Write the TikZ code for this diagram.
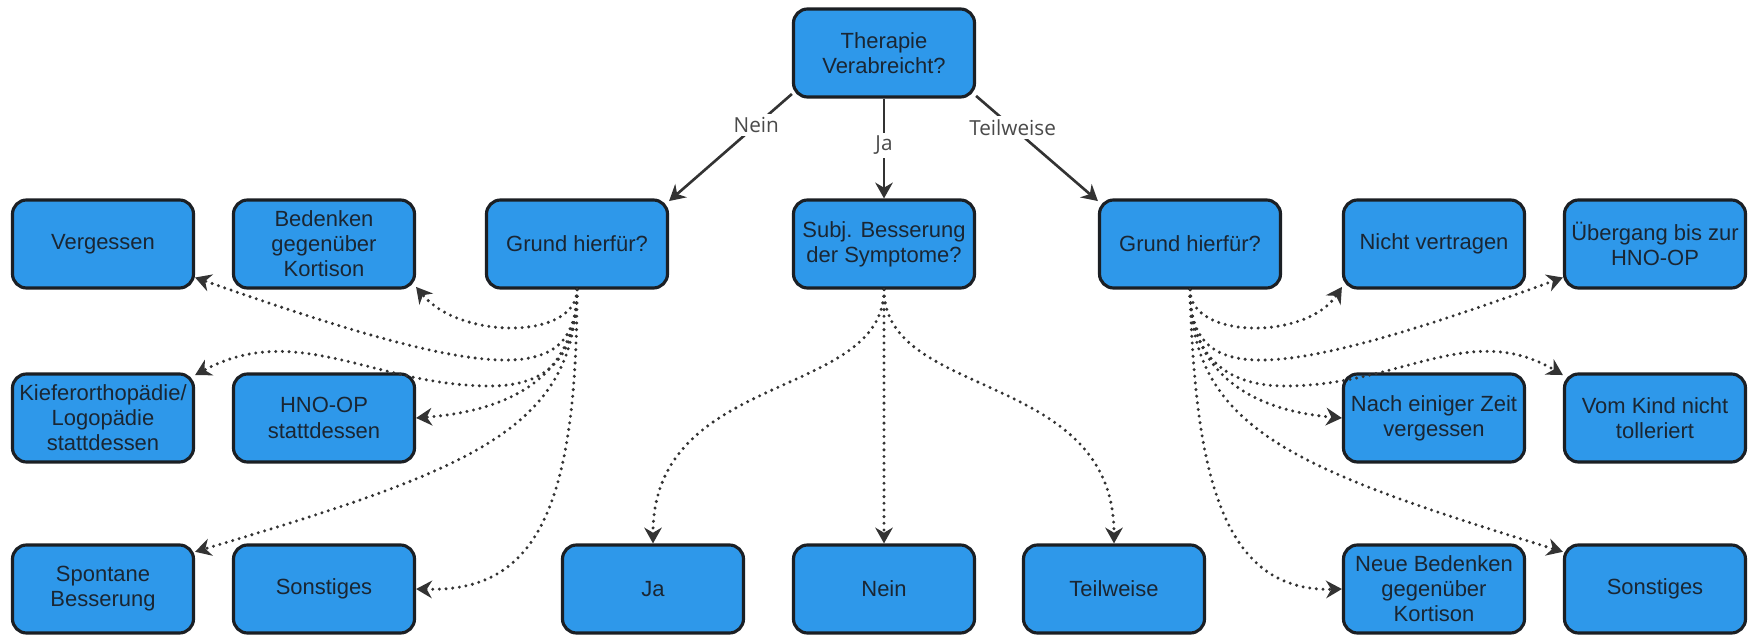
\documentclass[tikz,border=0pt]{standalone}
\usepackage{fontspec}
\setmainfont{Liberation Sans}
\newfontfamily\lblfont{Open Sans}
\usepackage{tikz}
\usetikzlibrary{arrows.meta}
\definecolor{boxblue}{HTML}{2E98EA}
\definecolor{boxline}{HTML}{1B1F24}
\definecolor{txtdark}{HTML}{1A2633}
\definecolor{arrowgrey}{HTML}{333333}
\definecolor{lblgrey}{HTML}{4A4A4A}

\begin{document}
\begin{tikzpicture}[
  x=0.2mm, y=-0.2mm,
  every node/.style={font=\fontsize{12.5}{14.3}\selectfont},
  decbox/.style={draw=boxline, line width=1.8pt, rounded corners=8pt, fill=boxblue,
    text=txtdark, align=center, minimum width=36.2mm, minimum height=17.6mm, inner sep=1pt},
  solidarr/.style={-{Stealth[length=9pt,width=10pt]}, line width=1.5pt, arrowgrey},
  dotarr/.style={-{Stealth[length=9pt,width=10pt]}, line width=1.9pt, arrowgrey,
    line cap=round, dash pattern=on 0pt off 3.8pt},
  edgelbl/.style={fill=white, text=lblgrey, font=\lblfont\fontsize{11.8}{14}\selectfont, inner sep=2pt},
]
  \useasboundingbox (0,0) rectangle (1758,635);

  % Question boxes
  \node[decbox] (thbox) at (884,53)  {Therapie\\Verabreicht?};
  \node[decbox] (glbox) at (577,244) {Grund hierfür?};
  \node[decbox] (sbbox) at (884,244) {Subj. Besserung\\der Symptome?};
  \node[decbox] (grbox) at (1190,244) {Grund hierfür?};

  \draw[solidarr] (thbox.204) -- node[edgelbl, pos=0.29] {Nein} (glbox.25);
  \draw[solidarr] (thbox.south) -- node[edgelbl, pos=0.47] {Ja} (sbbox.north);
  \draw[solidarr] (thbox.-25) -- node[edgelbl, pos=0.3] {Teilweise} (grbox.155);

  % Nein: reasons
  \node[decbox] (vgbox) at (103,244) {Vergessen};
  \node[decbox] (bdbox) at (324,244) {Bedenken\\gegenüber\\Kortison};
  \node[decbox] (kfbox) at (103,418) {Kieferorthopädie/\\Logopädie\\stattdessen};
  \node[decbox] (hnbox) at (324,418) {HNO-OP\\stattdessen};
  \node[decbox] (spbox) at (103,589) {Spontane\\Besserung};
  \node[decbox] (slbox) at (324,589) {Sonstiges};

  \draw[dotarr] (glbox.south) .. controls (577,385) and (500,385) .. (vgbox.-20);
  \draw[dotarr] (glbox.south) .. controls (577,340) and (460,340) .. (bdbox.-25);
  \draw[dotarr] (glbox.south) .. controls (577,360) and (545,386) .. (490,386)
                              .. controls (375,386) and (297,320) .. (kfbox.25);
  \draw[dotarr] (glbox.south) .. controls (577,370) and (520,410) .. (hnbox.east);
  \draw[dotarr] (glbox.south) .. controls (575,430) and (470,470) .. (spbox.22);
  \draw[dotarr] (glbox.south) .. controls (577,520) and (530,592) .. (slbox.east);

  % Ja: improvement
  \node[decbox] (jabox) at (653,589)  {Ja};
  \node[decbox] (nebox) at (884,589)  {Nein};
  \node[decbox] (twbox) at (1114,589) {Teilweise};

  \draw[dotarr] (sbbox.south) .. controls (884,400) and (653,370) .. (jabox.north);
  \draw[dotarr] (sbbox.south) -- (nebox.north);
  \draw[dotarr] (sbbox.south) .. controls (884,400) and (1114,370) .. (twbox.north);

  % Teilweise: reasons
  \node[decbox] (nvbox) at (1434,244) {Nicht vertragen};
  \node[decbox] (ubbox) at (1655,244) {Übergang bis zur\\HNO-OP};
  \node[decbox] (nzbox) at (1434,418) {Nach einiger Zeit\\vergessen};
  \node[decbox] (vkbox) at (1655,418) {Vom Kind nicht\\tolleriert};
  \node[decbox] (nbbox) at (1434,589) {Neue Bedenken\\gegenüber\\Kortison};
  \node[decbox] (srbox) at (1655,589) {Sonstiges};

  \draw[dotarr] (grbox.south) .. controls (1190,340) and (1307,340) .. (nvbox.-155);
  \draw[dotarr] (grbox.south) .. controls (1190,385) and (1267,385) .. (ubbox.-160);
  \draw[dotarr] (grbox.south) .. controls (1190,360) and (1230,386) .. (1285,386)
                              .. controls (1400,386) and (1470,320) .. (vkbox.155);
  \draw[dotarr] (grbox.south) .. controls (1190,370) and (1247,410) .. (nzbox.west);
  \draw[dotarr] (grbox.south) .. controls (1192,430) and (1297,470) .. (srbox.158);
  \draw[dotarr] (grbox.south) .. controls (1195,480) and (1225,592) .. (nbbox.west);
\end{tikzpicture}
\end{document}
